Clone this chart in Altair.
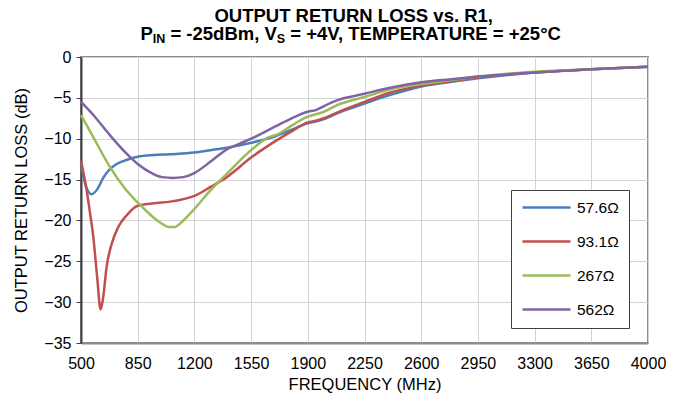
import altair as alt
import pandas as pd

# ---- data ----
f_576 = [500, 530, 566, 600, 640, 680, 720, 780, 850, 950, 1050, 1200, 1300, 1400, 1480, 1550, 1700, 1800, 1900, 1950, 2000, 2080, 2250, 2400, 2600, 2800, 2950, 3300, 3650, 4000]
v_576 = [-13.1, -15.8, -16.8, -16.2, -14.7, -13.7, -13.1, -12.6, -12.2, -12.0, -11.9, -11.7, -11.4, -11.1, -10.8, -10.5, -9.7, -8.9, -8.1, -7.9, -7.6, -6.9, -5.7, -4.7, -3.6, -3.0, -2.6, -1.9, -1.5, -1.2]

f_931 = [500, 535, 555, 576, 600, 621, 637, 658, 689, 730, 781, 850, 950, 1050, 1110, 1200, 1300, 1400, 1550, 1700, 1800, 1900, 1950, 2000, 2080, 2250, 2400, 2600, 2800, 2950, 3300, 3650, 4000]
v_931 = [-12.7, -16.3, -19.0, -22.0, -27.0, -30.9, -29.4, -25.7, -22.9, -20.8, -19.4, -18.2, -17.9, -17.7, -17.5, -17.0, -15.9, -14.7, -12.3, -10.3, -9.1, -8.0, -7.8, -7.5, -6.8, -5.5, -4.4, -3.5, -2.9, -2.5, -1.9, -1.5, -1.2]

f_267 = [500, 576, 680, 780, 850, 945, 1000, 1040, 1080, 1110, 1200, 1300, 1400, 1550, 1650, 1720, 1800, 1900, 1950, 2000, 2080, 2250, 2400, 2600, 2800, 2950, 3300, 3650, 4000]
v_267 = [-7.1, -9.8, -13.5, -16.3, -17.8, -19.6, -20.4, -20.8, -20.8, -20.4, -18.6, -16.3, -14.3, -11.4, -9.9, -9.4, -8.4, -7.3, -7.0, -6.7, -5.9, -4.9, -4.0, -3.3, -2.8, -2.4, -1.8, -1.5, -1.2]

f_562 = [500, 576, 680, 780, 850, 945, 1000, 1068, 1130, 1200, 1300, 1400, 1480, 1550, 1700, 1800, 1900, 1950, 2000, 2080, 2250, 2400, 2600, 2800, 2950, 3300, 3650, 4000]
v_562 = [-5.5, -7.1, -9.6, -11.8, -13.1, -14.3, -14.7, -14.8, -14.7, -14.2, -12.8, -11.3, -10.6, -10.0, -8.5, -7.5, -6.7, -6.5, -6.0, -5.3, -4.5, -3.8, -3.1, -2.7, -2.4, -1.9, -1.5, -1.2]

series_names = ["57.6Ω", "93.1Ω", "267Ω", "562Ω"]
series_colors = ["#4a7ebb", "#c0504d", "#9bbb59", "#8064a2"]
x_ticks = [500, 850, 1200, 1550, 1900, 2250, 2600, 2950, 3300, 3650, 4000]
y_ticks = [0, -5, -10, -15, -20, -25, -30, -35]

rows = []
for name, fs, vs in zip(series_names, [f_576, f_931, f_267, f_562], [v_576, v_931, v_267, v_562]):
    for f, v in zip(fs, vs):
        rows.append({"R1": name, "freq": f, "rl": v})
df = pd.DataFrame(rows)

FONT = "Liberation Sans"
W, H = 567, 286

lines = alt.Chart(df).mark_line(strokeWidth=2.5, interpolate="monotone").encode(
    x=alt.X("freq:Q", title="FREQUENCY (MHz)",
            scale=alt.Scale(domain=[500, 4000], nice=False),
            axis=alt.Axis(values=x_ticks, format="d", ticks=False, labelPadding=12,
                          titlePadding=5, domainColor="#8c8c8c", domainWidth=2,
                          gridColor="#d4d4d4", labelFlush=False)),
    y=alt.Y("rl:Q", title="OUTPUT RETURN LOSS (dB)",
            scale=alt.Scale(domain=[-35, 0], nice=False),
            axis=alt.Axis(values=y_ticks, tickSize=5, tickColor="#404040", labelPadding=5,
                          titlePadding=14, domainColor="#404040", domainWidth=2,
                          gridColor="#d4d4d4", labelFlush=False)),
    color=alt.Color("R1:N", sort=series_names,
                    scale=alt.Scale(domain=series_names, range=series_colors),
                    legend=alt.Legend(title=None, orient="none", legendX=430, legendY=133,
                                      symbolType="stroke", symbolSize=2304, symbolStrokeWidth=2.5,
                                      clipHeight=15, rowPadding=18, padding=10,
                                      labelFontSize=15.5, labelFont=FONT, labelColor="#000000",
                                      labelOffset=5, strokeColor="#404040", fillColor="#ffffff")),
)

one = pd.DataFrame({"k": [0]})
S, s = 18.5, 12.5
sp = 0.278 * S
w_P = 0.667 * S
w_IN = 1.0 * s
w_mid = 6.030 * S
w_S = 0.667 * s
w_end = 15.072 * S
total = w_P + w_IN + w_mid + w_S + w_end
x0 = 271.2 - total / 2
base2 = -16.7
segs = [
    ("P", x0, base2, S),
    ("IN", x0 + w_P, base2 + 2.3, s),
    ("= -25dBm, V", x0 + w_P + w_IN + sp, base2, S),
    ("S", x0 + w_P + w_IN + w_mid, base2 + 2.3, s),
    ("= +4V, TEMPERATURE = +25°C", x0 + w_P + w_IN + w_mid + w_S + sp, base2, S),
]
title_layers = [
    alt.Chart(one).mark_text(text="OUTPUT RETURN LOSS vs. R1,", font=FONT, fontSize=S, fontWeight="bold",
                             align="center", baseline="alphabetic", color="#000000").encode(
        x=alt.value(272.7), y=alt.value(-35.5))
]
for t, xx, yy, fs in segs:
    title_layers.append(
        alt.Chart(one).mark_text(text=t, font=FONT, fontSize=fs, fontWeight="bold",
                                 align="left", baseline="alphabetic", color="#000000").encode(
            x=alt.value(xx), y=alt.value(yy))
    )

chart = alt.layer(lines, *title_layers).properties(
    width=W, height=H,
    autosize=alt.AutoSizeParams(type="none"),
    padding={"left": 73, "top": 49, "right": 23, "bottom": 50},
).configure_view(
    stroke="#8c8c8c", strokeWidth=2
).configure_axis(
    labelFont=FONT, titleFont=FONT, labelFontSize=16, titleFontSize=16.5,
    labelColor="#000000", titleColor="#000000", titleFontWeight="normal"
)

chart.save("out.html", embed_options={"renderer": "svg", "actions": False})
